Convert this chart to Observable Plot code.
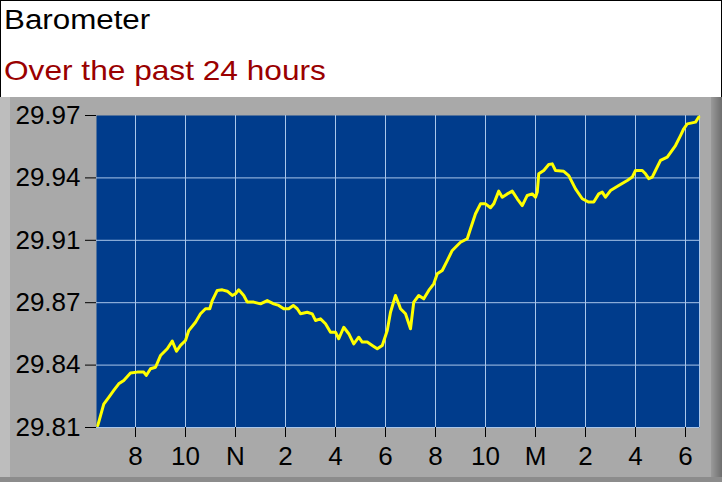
<!DOCTYPE html>
<html>
<head>
<meta charset="utf-8">
<script src="https://cdn.jsdelivr.net/npm/d3@7"></script>
<script src="https://cdn.jsdelivr.net/npm/@observablehq/plot@0.6"></script>
<style>
html, body { margin: 0; padding: 0; background: #fff; }
#wrap { position: relative; width: 722px; height: 482px; overflow: hidden; font-family: "Liberation Sans", Arial, sans-serif; }
#head { position: absolute; left: 0; top: 0; width: 720px; height: 96px; border: 1px solid #000; border-bottom: none; background: #fff; }
#title { position: absolute; left: 3px; top: 6px; font-size: 27px; line-height: 27px; color: #000; white-space: nowrap; transform: scaleX(1.16); transform-origin: 0 0; }
#subtitle { position: absolute; left: 3px; top: 56px; font-size: 28px; line-height: 28px; color: #9a0000; white-space: nowrap; transform: scaleX(1.13); transform-origin: 0 0; }
#panel { position: absolute; left: 0; top: 97px; width: 722px; height: 385px; background: #a9a9a9; }
#bevL { position: absolute; left: 0; top: 0; width: 10px; height: 385px; background: #bdbdbd; }
#bevR { position: absolute; right: 0; top: 0; width: 11px; height: 385px; background: linear-gradient(to right, #9a9a9a, #6e6e6e); }
#bevB { position: absolute; left: 0; bottom: 0; width: 722px; height: 5px; background: #8c8c8c; }
#chart { position: absolute; left: 0; top: 97px; }
</style>
</head>
<body>
<div id="wrap">
  <div id="head">
    <div id="title">Barometer</div>
    <div id="subtitle">Over the past 24 hours</div>
  </div>
  <div id="panel"><div id="bevL"></div><div id="bevR"></div><div id="bevB"></div></div>
  <div id="chart"></div>
</div>
<script>
// hours since midnight of day 1 (24 = midnight, 30 = 6 AM next day)
const hours = [6.49,6.73,6.93,7.13,7.33,7.53,7.80,8.07,8.33,8.43,8.60,8.80,9.00,9.27,9.47,9.64,9.80,10.00,10.13,10.40,10.60,10.80,10.97,11.07,11.27,11.47,11.67,11.87,12.00,12.13,12.33,12.47,12.73,13.00,13.27,13.53,13.73,13.93,14.13,14.31,14.47,14.60,14.87,15.07,15.20,15.40,15.60,15.80,16.00,16.13,16.33,16.53,16.73,16.93,17.07,17.27,17.47,17.67,17.87,18.07,18.20,18.40,18.53,18.60,18.80,19.00,19.13,19.33,19.53,19.73,19.93,20.07,20.27,20.47,20.67,21.00,21.27,21.40,21.60,21.80,22.00,22.20,22.33,22.53,22.67,22.87,23.07,23.27,23.47,23.67,23.87,24.00,24.07,24.13,24.33,24.53,24.67,24.80,25.13,25.33,25.60,25.87,26.13,26.33,26.53,26.67,26.80,27.00,27.33,27.67,27.87,28.00,28.27,28.40,28.53,28.67,28.80,29.00,29.27,29.60,29.80,29.93,30.07,30.40,30.53];
const pressure = [29.811,29.822,29.8255,29.829,29.8324,29.8341,29.8379,29.8384,29.8384,29.8367,29.8401,29.8409,29.8469,29.8504,29.8543,29.8491,29.8521,29.8546,29.8597,29.8640,29.8683,29.8709,29.8709,29.8751,29.8803,29.8806,29.8799,29.8777,29.8786,29.8806,29.8777,29.8743,29.8743,29.8734,29.8751,29.8734,29.8726,29.8709,29.8709,29.8726,29.8709,29.8683,29.8691,29.8683,29.8649,29.8657,29.8632,29.8589,29.8589,29.8555,29.8614,29.8581,29.8529,29.8563,29.8538,29.8538,29.8521,29.8504,29.8521,29.8597,29.8691,29.8777,29.8734,29.8709,29.8683,29.8606,29.8743,29.8777,29.8760,29.8803,29.8837,29.8888,29.8905,29.8956,29.9008,29.9050,29.9068,29.9119,29.9196,29.9247,29.9247,29.9227,29.9247,29.9312,29.9281,29.9298,29.9312,29.9273,29.9238,29.9290,29.9298,29.9281,29.9307,29.9401,29.9418,29.9449,29.9452,29.9418,29.9414,29.9392,29.9324,29.9273,29.9256,29.9256,29.9298,29.9307,29.9281,29.9315,29.9341,29.9367,29.9384,29.9418,29.9418,29.9401,29.9376,29.9384,29.9418,29.9470,29.9487,29.9546,29.9597,29.9632,29.9657,29.9666,29.9692];

const xDomain = [6.44, 30.56];
const yDomain = [29.81, 29.97];
const xTicks = [8,10,12,14,16,18,20,22,24,26,28,30];
const xTickLabels = ["8","10","N","2","4","6","8","10","M","2","4","6"];
const yTicks = [29.81,29.842,29.874,29.906,29.938,29.97];
const yTickLabels = ["29.81","29.84","29.87","29.91","29.94","29.97"];

const data = hours.map((h, i) => ({h, p: pressure[i]}));
const labelFor = (ticks, labels) => d => labels[ticks.findIndex(t => Math.abs(t - d) < 1e-9)];
const gridColor = "#a9c6ea";

const chart = Plot.plot({
  width: 722,
  height: 385,
  marginLeft: 96,
  marginRight: 23,
  marginTop: 18,
  marginBottom: 55,
  style: {background: "transparent", fontFamily: "'Liberation Sans', Arial, sans-serif", fontSize: "26px", color: "#000", overflow: "visible", maxWidth: "none"},
  x: {domain: xDomain, label: null},
  y: {domain: yDomain, label: null},
  marks: [
    Plot.frame({fill: "#003c8c", stroke: null}),
    Plot.gridX(xTicks, {stroke: gridColor, strokeOpacity: 1, strokeWidth: 1}),
    Plot.gridY(yTicks.slice(0, -1), {stroke: gridColor, strokeOpacity: 1, strokeWidth: 1}),
    Plot.ruleX([xDomain[1]], {stroke: gridColor, strokeWidth: 1}),
    Plot.line(data, {x: "h", y: "p", stroke: "#ffff00", strokeWidth: 3, strokeLinejoin: "round"}),
    Plot.axisX({ticks: xTicks, tickFormat: labelFor(xTicks, xTickLabels), tickSize: 10, tickPadding: 9, stroke: "#000", label: null}),
    Plot.axisY({ticks: yTicks, tickFormat: labelFor(yTicks, yTickLabels), tickSize: 11, tickPadding: 5, stroke: "#000", label: null})
  ]
});
document.getElementById("chart").appendChild(chart);
</script>
</body>
</html>
